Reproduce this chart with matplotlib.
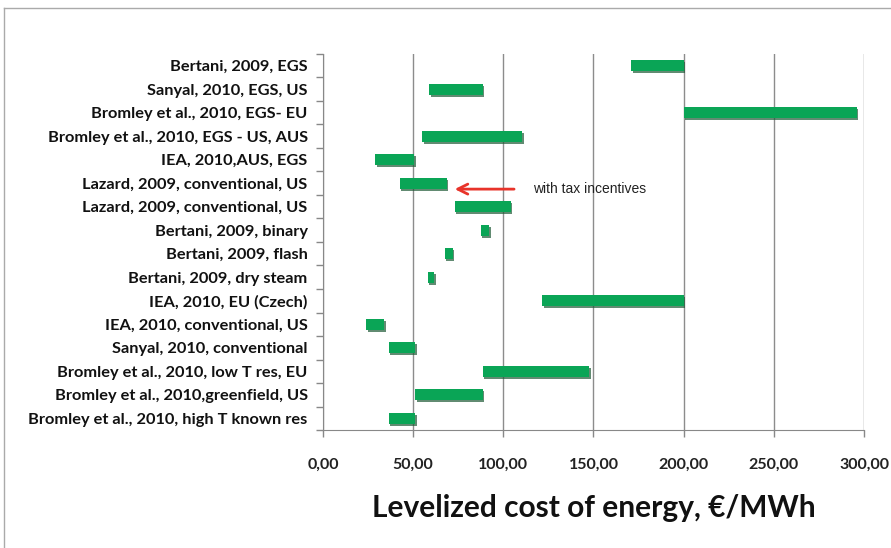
import numpy as np
import matplotlib
matplotlib.use('Agg')
import matplotlib.pyplot as plt
import matplotlib.patheffects as pe
from matplotlib.lines import Line2D

# studies, top to bottom
studies = [
    'Bertani, 2009, EGS',
    'Sanyal, 2010, EGS, US',
    'Bromley et al., 2010, EGS- EU',
    'Bromley et al., 2010, EGS - US, AUS',
    'IEA, 2010,AUS, EGS',
    'Lazard, 2009, conventional, US',
    'Lazard, 2009, conventional, US',
    'Bertani, 2009, binary',
    'Bertani, 2009, flash',
    'Bertani, 2009, dry steam',
    'IEA, 2010, EU (Czech)',
    'IEA, 2010, conventional, US',
    'Sanyal, 2010, conventional',
    'Bromley et al., 2010, low T res, EU',
    'Bromley et al., 2010,greenfield, US',
    'Bromley et al., 2010, high T known res',
]
# cost ranges, EUR/MWh
low = [171, 59, 200, 55, 29, 42.5, 73, 87.5, 67.5, 58, 121.5, 24, 36.5, 88.5, 51, 36.5]
high = [200, 88.5, 296, 110.5, 50.5, 68.5, 104, 92, 72, 61.5, 200, 34, 51, 147.5, 88.5, 51]
xticks = [0, 50, 100, 150, 200, 250, 300]

green = '#0aa556'
label_font = 'Lato'

fig = plt.figure(figsize=(8.91, 5.48), dpi=100)
ax = fig.add_axes([0.3625, 0.2153, 0.6072, 0.6862])

y = np.arange(len(studies))
ax.barh(y, np.array(high) - np.array(low), left=low, height=0.46,
        color=green, edgecolor='none', zorder=3,
        path_effects=[pe.SimplePatchShadow(offset=(1.2, -1.5), shadow_rgbFace='#1f5a36', alpha=0.7),
                      pe.Normal()])

ax.set_xlim(0, 300)
ax.set_ylim(len(studies) - 0.5, -0.5)

ax.set_xticks(xticks)
ax.set_xticklabels(['%d,00' % v for v in xticks], fontsize=11.5, fontfamily=label_font,
                   fontweight='bold', color='#222222')
ax.tick_params(axis='x', length=5, width=1, color='#888888', pad=15)

ax.set_yticks(y)
ax.set_yticklabels(studies, fontsize=11.8, fontfamily=label_font, fontweight='bold', color='#111111')
ax.set_yticks(np.arange(len(studies) + 1) - 0.5, minor=True)
ax.tick_params(axis='y', which='major', length=0, pad=11)
ax.tick_params(axis='y', which='minor', length=5, width=1, color='#888888')

ax.grid(axis='x', color='#8c8c8c', linewidth=1, zorder=0)
for side in ['top', 'right']:
    ax.spines[side].set_visible(False)
for side in ['left', 'bottom']:
    ax.spines[side].set_color('#888888')

ax.set_xlabel('Levelized cost of energy, \u20ac/MWh', fontsize=21.5, fontfamily=label_font,
              fontweight='bold', color='#111111', labelpad=16)

# note on the tax-incentive bar
ax.annotate('', xy=(71.5, 5.25), xytext=(107.5, 5.25),
            arrowprops=dict(arrowstyle='->', color='#e8332a', lw=2, mutation_scale=18))
ax.text(116.5, 5.25, 'with tax incentives', fontsize=10, fontfamily='Liberation Sans',
        color='#222222', va='center')

# thin frame around the chart
fig.add_artist(Line2D([0.0045, 0.0045], [0, 0.985], transform=fig.transFigure, color='#aaaaaa', lw=1))
fig.add_artist(Line2D([0.0045, 1], [0.985, 0.985], transform=fig.transFigure, color='#aaaaaa', lw=1))

fig.savefig('out.png', dpi=100)
